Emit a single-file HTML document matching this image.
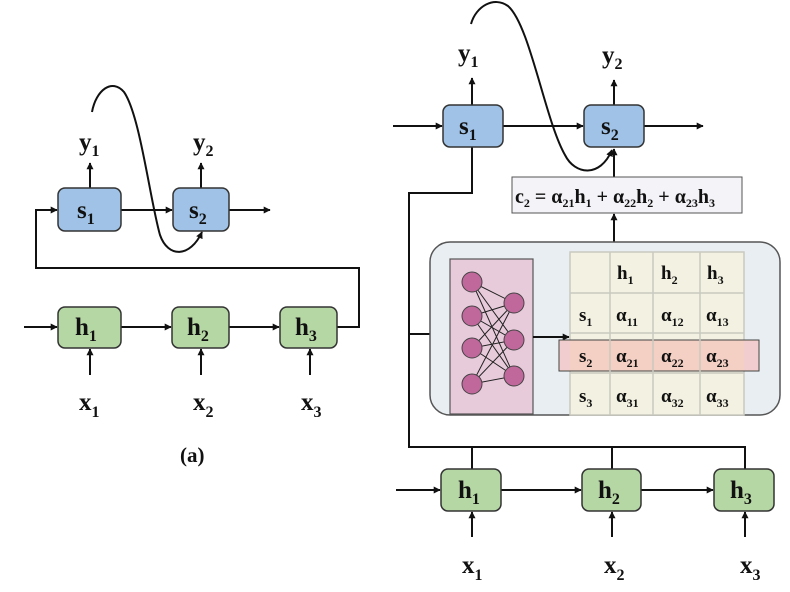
<!DOCTYPE html>
<html><head><meta charset="utf-8"><style>
html,body{margin:0;padding:0;background:#fff}
svg text{font-family:"Liberation Serif",serif;font-weight:bold;fill:#111}
</style></head><body>
<svg width="790" height="587" viewBox="0 0 790 587" xmlns="http://www.w3.org/2000/svg">
<defs>
<marker id="a" viewBox="0 0 10 10" refX="9" refY="5" markerWidth="7" markerHeight="7" orient="auto-start-reverse" markerUnits="userSpaceOnUse"><path d="M0,0 L10,5 L0,10 z" fill="#111"/></marker>
</defs>
<g stroke="#111" stroke-width="2" fill="none">
<path d="M337,327 H359 V268 H36 V210 H57" marker-end="url(#a)"/>
<path d="M121,210 H172" marker-end="url(#a)"/>
<path d="M229,210 H270" marker-end="url(#a)"/>
<path d="M90,188 V163" marker-end="url(#a)"/>
<path d="M201,188 V163" marker-end="url(#a)"/>
<path d="M24,327 H57" marker-end="url(#a)"/>
<path d="M121,327 H171" marker-end="url(#a)"/>
<path d="M229,327 H279" marker-end="url(#a)"/>
<path d="M90,375 V349" marker-end="url(#a)"/>
<path d="M201,375 V349" marker-end="url(#a)"/>
<path d="M310,375 V349" marker-end="url(#a)"/>
<path d="M92,112 C96,90 112,78 124,92 C140,115 150,200 160,235 C168,258 190,258 202,232" marker-end="url(#a)"/>
<path d="M393,126 H442" marker-end="url(#a)"/>
<path d="M503,126 H583" marker-end="url(#a)"/>
<path d="M644,126 H703" marker-end="url(#a)"/>
<path d="M472,105 V78" marker-end="url(#a)"/>
<path d="M614,105 V80" marker-end="url(#a)"/>
<path d="M471,24 C476,6 494,-4 508,6 C530,25 545,120 565,155 C575,175 600,178 612,150" marker-end="url(#a)"/>
<path d="M614,177 V149" marker-end="url(#a)"/>
<path d="M614,242 V214" marker-end="url(#a)"/>
<path d="M472,147 V193 H409 V447 H745 V469"/>
<path d="M472,447 V469"/><path d="M612,447 V469"/>
<path d="M409,334 H449" marker-end="url(#a)"/>
<path d="M396,490 H440" marker-end="url(#a)"/>
<path d="M501,490 H581" marker-end="url(#a)"/>
<path d="M641,490 H713" marker-end="url(#a)"/>
<path d="M472,537 V512" marker-end="url(#a)"/>
<path d="M612,537 V512" marker-end="url(#a)"/>
<path d="M745,537 V512" marker-end="url(#a)"/>
</g>
<g stroke="#333" stroke-width="1.5">
<rect x="58" y="188" width="63" height="43" rx="7" fill="#9fc2e6"/>
<rect x="173" y="188" width="56" height="43" rx="7" fill="#9fc2e6"/>
<rect x="58" y="307" width="63" height="41" rx="7" fill="#b5d7a4"/>
<rect x="172" y="307" width="57" height="41" rx="7" fill="#b5d7a4"/>
<rect x="280" y="307" width="57" height="41" rx="7" fill="#b5d7a4"/>
<rect x="443" y="105" width="60" height="42" rx="7" fill="#9fc2e6"/>
<rect x="584" y="105" width="60" height="42" rx="7" fill="#9fc2e6"/>
<rect x="441" y="469" width="60" height="42" rx="7" fill="#b5d7a4"/>
<rect x="582" y="469" width="59" height="42" rx="7" fill="#b5d7a4"/>
<rect x="714" y="469" width="60" height="42" rx="7" fill="#b5d7a4"/>
<rect x="512" y="177" width="230" height="36" fill="#f3f3f8" stroke="#555" stroke-width="1"/>
<rect x="430" y="242" width="350" height="173" rx="20" fill="#e9eef2" stroke="#555" stroke-width="1.5"/>
<rect x="450" y="259" width="83" height="155" fill="#e8cbdb" stroke="#555" stroke-width="1.2"/>
</g>
<path d="M533,337 H569" stroke="#111" stroke-width="2" marker-end="url(#a)"/>
<rect x="570" y="252" width="174" height="163" fill="#f3f1e1" stroke="#c9c9c0" stroke-width="1.5"/>
<rect x="559" y="340" width="200" height="31" fill="#f3d0c3" stroke="#444" stroke-width="1"/>
<rect x="744" y="341" width="14" height="29" fill="#f1cdd0"/>
<rect x="560" y="341" width="10" height="29" fill="#f1cdd0"/>
<g stroke="#c9c9c0" stroke-width="1.5">
<line x1="610" y1="252" x2="610" y2="415"/><line x1="653" y1="252" x2="653" y2="415"/><line x1="700" y1="252" x2="700" y2="415"/>
<line x1="570" y1="293" x2="744" y2="293"/><line x1="570" y1="333" x2="744" y2="333"/><line x1="570" y1="373" x2="744" y2="373"/>
</g>
<g stroke="#222" stroke-width="1">
<path d="M472,282 L514,303 M472,282 L514,340 M472,282 L514,376 M472,316 L514,303 M472,316 L514,340 M472,316 L514,376 M472,348 L514,303 M472,348 L514,340 M472,348 L514,376 M472,384 L514,303 M472,384 L514,340 M472,384 L514,376"/>
</g>
<g fill="#c0689c" stroke="#444" stroke-width="1">
<circle cx="472" cy="282" r="10"/><circle cx="472" cy="316" r="10"/><circle cx="472" cy="348" r="10"/><circle cx="472" cy="384" r="10"/>
<circle cx="514" cy="303" r="10"/><circle cx="514" cy="340" r="10"/><circle cx="514" cy="376" r="10"/>
</g>
<g font-size="25">
<text x="77" y="218">s<tspan font-size="16" dy="6">1</tspan></text>
<text x="189" y="218">s<tspan font-size="16" dy="6">2</tspan></text>
<text x="75" y="335">h<tspan font-size="16" dy="6">1</tspan></text>
<text x="187" y="335">h<tspan font-size="16" dy="6">2</tspan></text>
<text x="295" y="335">h<tspan font-size="16" dy="6">3</tspan></text>
<text x="79" y="150">y<tspan font-size="16" dy="6">1</tspan></text>
<text x="193" y="150">y<tspan font-size="16" dy="6">2</tspan></text>
<text x="79" y="410">x<tspan font-size="16" dy="7">1</tspan></text>
<text x="193" y="410">x<tspan font-size="16" dy="7">2</tspan></text>
<text x="301" y="410">x<tspan font-size="16" dy="7">3</tspan></text>
<text x="180" y="462" font-size="21">(a)</text>
<text x="459" y="134">s<tspan font-size="16" dy="6">1</tspan></text>
<text x="601" y="134">s<tspan font-size="16" dy="6">2</tspan></text>
<text x="458" y="498">h<tspan font-size="16" dy="6">1</tspan></text>
<text x="598" y="498">h<tspan font-size="16" dy="6">2</tspan></text>
<text x="730" y="498">h<tspan font-size="16" dy="6">3</tspan></text>
<text x="458" y="61">y<tspan font-size="16" dy="6">1</tspan></text>
<text x="602" y="63">y<tspan font-size="16" dy="6">2</tspan></text>
<text x="462" y="573">x<tspan font-size="16" dy="7">1</tspan></text>
<text x="604" y="573">x<tspan font-size="16" dy="7">2</tspan></text>
<text x="740" y="573">x<tspan font-size="16" dy="7">3</tspan></text>
</g>
<text x="515" y="203" font-size="20" font-weight="normal">c<tspan font-size="12" dy="4">2</tspan><tspan dy="-4"> = </tspan><tspan font-weight="bold">α</tspan><tspan font-size="12" dy="4">21</tspan><tspan dy="-4">h</tspan><tspan font-size="12" dy="4">1</tspan><tspan dy="-4"> + </tspan><tspan font-weight="bold">α</tspan><tspan font-size="12" dy="4">22</tspan><tspan dy="-4">h</tspan><tspan font-size="12" dy="4">2</tspan><tspan dy="-4"> + </tspan><tspan font-weight="bold">α</tspan><tspan font-size="12" dy="4">23</tspan><tspan dy="-4">h</tspan><tspan font-size="12" dy="4">3</tspan></text>
<g font-size="19">
<text x="617" y="279">h<tspan font-size="12" dy="5">1</tspan></text>
<text x="661" y="279">h<tspan font-size="12" dy="5">2</tspan></text>
<text x="707" y="279">h<tspan font-size="12" dy="5">3</tspan></text>
<text x="579" y="321">s<tspan font-size="12" dy="5">1</tspan></text>
<text x="579" y="362">s<tspan font-size="12" dy="5">2</tspan></text>
<text x="579" y="402">s<tspan font-size="12" dy="5">3</tspan></text>
<text x="616" y="321">α<tspan font-size="12" dy="5">11</tspan></text>
<text x="661" y="321">α<tspan font-size="12" dy="5">12</tspan></text>
<text x="706" y="321">α<tspan font-size="12" dy="5">13</tspan></text>
<text x="616" y="362">α<tspan font-size="12" dy="5">21</tspan></text>
<text x="661" y="362">α<tspan font-size="12" dy="5">22</tspan></text>
<text x="706" y="362">α<tspan font-size="12" dy="5">23</tspan></text>
<text x="616" y="402">α<tspan font-size="12" dy="5">31</tspan></text>
<text x="661" y="402">α<tspan font-size="12" dy="5">32</tspan></text>
<text x="706" y="402">α<tspan font-size="12" dy="5">33</tspan></text>
</g>
</svg>
</body></html>
